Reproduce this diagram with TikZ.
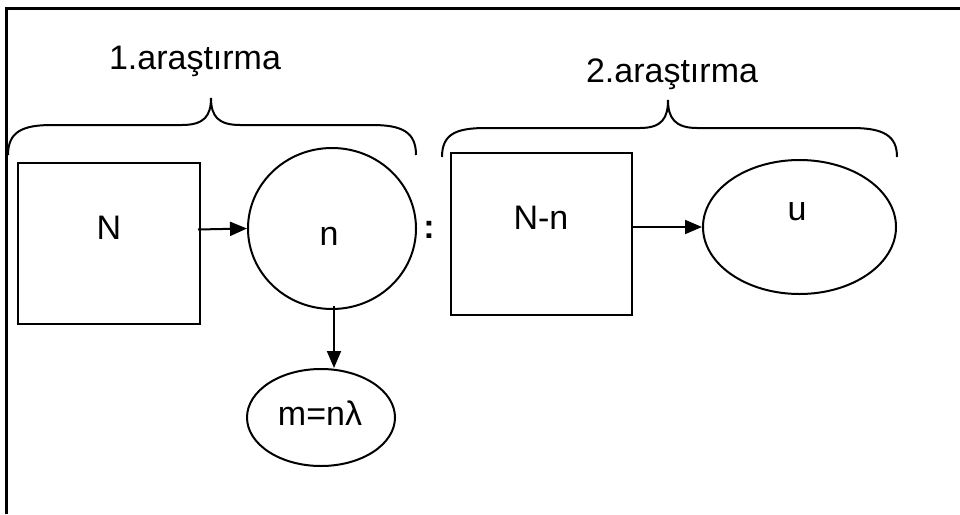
\documentclass[tikz,border=0pt]{standalone}
\usepackage{fontspec}
\setmainfont{Liberation Sans}
\usetikzlibrary{shapes.geometric,arrows.meta}
\begin{document}
\begin{tikzpicture}[x=1pt,y=-1pt,
  shapeline/.style={draw=black,line width=2pt,inner sep=0pt},
  boxshape/.style={shapeline,rectangle},
  ovalshape/.style={shapeline,ellipse},
  lbl/.style={inner sep=0pt,font=\fontsize{34}{40}\selectfont},
  arr/.style={line width=2pt,-{Triangle[length=17pt,width=14pt]}},
  bracepath/.style={line width=2pt}]
\useasboundingbox (0,0) rectangle (960,514);

% outer frame (top and left edges only)
\draw[line width=3pt] (6,514) -- (6,8) -- (960,8);

% first study: brace and caption
\draw[bracepath] (8,155) .. controls (8,132) and (22,125) .. (52,125)
  -- (182,125) .. controls (204,125) and (211,116) .. (211,98)
  .. controls (211,116) and (218,125) .. (240,125)
  -- (372,125) .. controls (402,125) and (416,132) .. (416,155);
\node[lbl] (t1) at (195,61) {1.araştırma};

% second study: brace and caption
\draw[bracepath] (442,157) .. controls (442,134) and (456,128) .. (486,128)
  -- (640,128) .. controls (662,128) and (668,118) .. (668,100)
  .. controls (668,118) and (675,128) .. (697,128)
  -- (852,128) .. controls (884,128) and (897,136) .. (897,157);
\node[lbl] (t2) at (672,74) {2.araştırma};

% population box N
\node[boxshape,minimum width=182pt,minimum height=161pt] (boxN) at (109,243.5) {};
\node[lbl] (lN) at (109,228) {N};

% sample circle n
\node[ovalshape,minimum width=168pt,minimum height=161pt] (circ) at (332,228.5) {};
\node[lbl] (ln) at (329,236) {n};

% ratio sign between the two studies
\node[lbl,font=\fontsize{34}{40}\selectfont\bfseries] (colon) at (429,230) {:};

% marked sample m = n lambda
\node[ovalshape,minimum width=148pt,minimum height=97pt] (mell) at (321,417.5) {};
\node[lbl] (lm) at (320,413) {m=nλ};

% remaining box N-n
\node[boxshape,minimum width=181pt,minimum height=162pt] (boxNn) at (541.5,234) {};
\node[lbl] (lNn) at (541,218) {N-n};

% second sample u
\node[ovalshape,minimum width=193pt,minimum height=134pt] (uell) at (799.5,227) {};
\node[lbl] (lu) at (797,212) {u};

% connectors
\draw[arr] ([xshift=-3pt,yshift=14pt]boxN.east) -- (circ.west);
\draw[arr] ([xshift=2pt,yshift=4pt]circ.south) -- ([xshift=2pt]circ.south |- mell.north);
\draw[arr] ([yshift=7pt]boxNn.east) -- (uell.west);
\end{tikzpicture}
\end{document}
